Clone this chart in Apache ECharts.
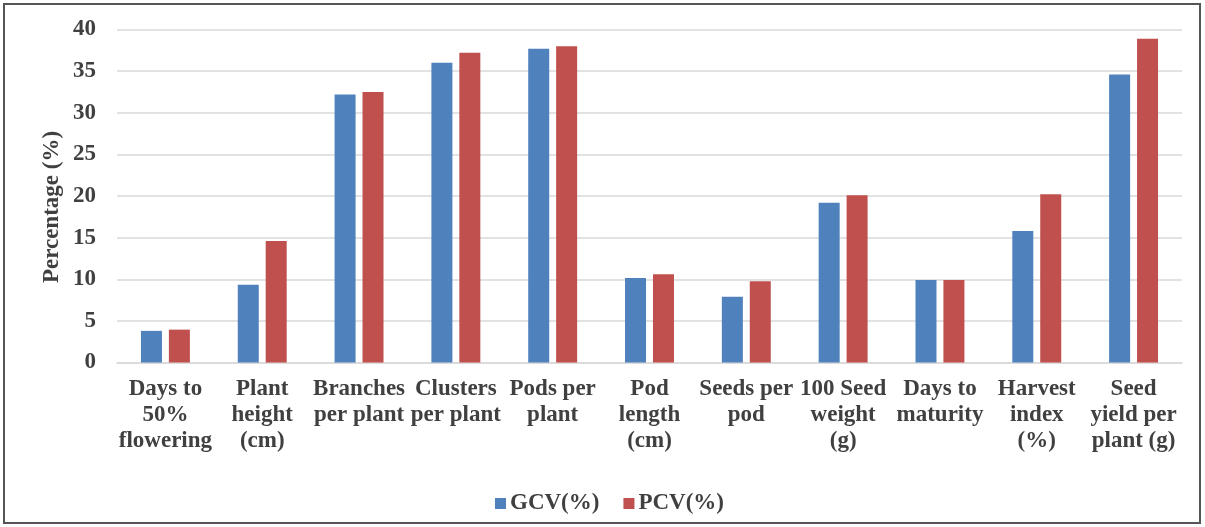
<!DOCTYPE html>
<html><head><meta charset="utf-8">
<script src="https://cdn.jsdelivr.net/npm/echarts@6/dist/echarts.min.js"></script>
<style>html,body{margin:0;padding:0;background:#fff}#c{width:1205px;height:527px}</style>
</head><body><div id="c"></div>
<script>
const categories = ["Days to\n50%\nflowering","Plant\nheight\n(cm)","Branches\nper plant","Clusters\nper plant","Pods per\nplant","Pod\nlength\n(cm)","Seeds per\npod","100 Seed\nweight\n(g)","Days to\nmaturity","Harvest\nindex\n(%)","Seed\nyield per\nplant (g)"];
const gcv = [3.8, 9.35, 32.2, 36.0, 37.7, 10.15, 7.9, 19.2, 9.9, 15.8, 34.6];
const pcv = [3.95, 14.6, 32.5, 37.2, 38.0, 10.6, 9.75, 20.1, 9.9, 20.2, 38.9];
const yTicks = [0, 5, 10, 15, 20, 25, 30, 35, 40];
const yTitle = 'Percentage (%)';
const FONT = "'Liberation Serif','Times New Roman',serif";
const chart = echarts.init(document.getElementById('c'));
chart.setOption({
  animation: false,
  backgroundColor: '#fff',
  graphic: [
    {type:'rect', shape:{x:4,y:4,width:1196,height:519}, style:{fill:'none', stroke:'#555', lineWidth:2}, silent:true},
    {type:'text', x:52, y:207, rotation:Math.PI/2, style:{text:yTitle, fontFamily:FONT, fontWeight:'bold', fontSize:23, fill:'#404040', align:'center', verticalAlign:'middle'}, silent:true}
  ],
  grid: {left:117, right:23, top:29.5, bottom:164.5},
  legend: {
    data: ['GCV(%)','PCV(%)'], top: 487, left: 490,
    icon: 'rect', itemWidth: 11, itemHeight: 11, itemGap: 24,
    textStyle: {fontFamily: FONT, fontWeight: 'bold', fontSize: 23, color: '#404040', padding:[0,0,0,-1]}
  },
  xAxis: {
    type: 'category', data: categories,
    axisTick: {show:false},
    axisLine: {lineStyle:{color:'#d9d9d9', width:1.5}},
    axisLabel: {interval:0, margin:14, fontFamily: FONT, fontWeight:'bold', fontSize:23, lineHeight:26, color:'#404040'}
  },
  yAxis: {
    type: 'value', min: yTicks[0], max: yTicks[yTicks.length-1], interval: 5,
    axisLine: {show:false}, axisTick: {show:false},
    axisLabel: {margin:21, fontFamily: FONT, fontWeight:'bold', fontSize:23, color:'#404040'},
    splitLine: {lineStyle:{color:'#d9d9d9', width:1.5}}
  },
  series: [
    {name:'GCV(%)', type:'bar', data: gcv, barWidth: 21, barGap: '33%', itemStyle:{color:'#4f81bd'}},
    {name:'PCV(%)', type:'bar', data: pcv, barWidth: 21, barGap: '33%', itemStyle:{color:'#c0504d'}}
  ]
});
</script></body></html>
